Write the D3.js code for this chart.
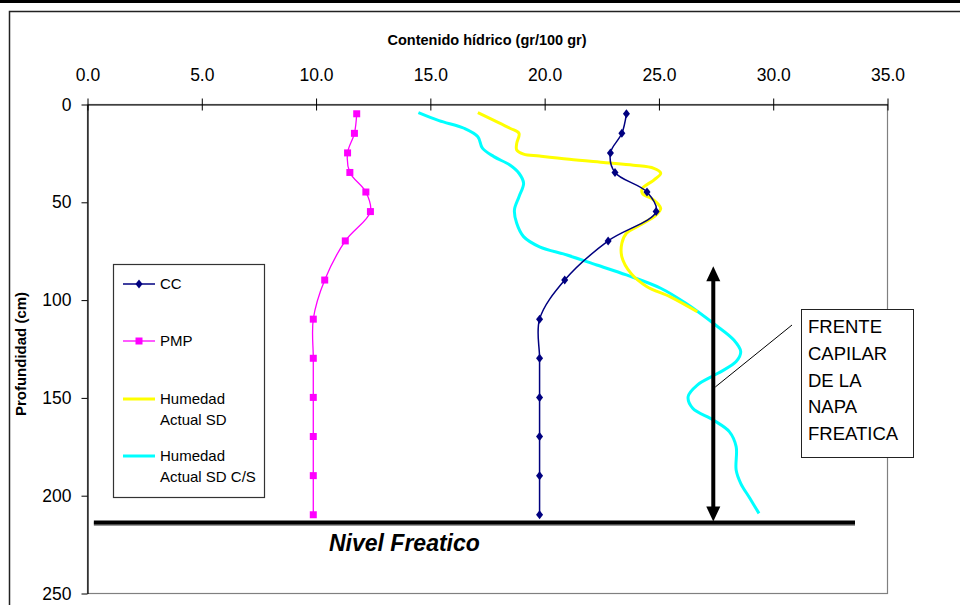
<!DOCTYPE html>
<html>
<head>
<meta charset="utf-8">
<script src="https://cdn.jsdelivr.net/npm/d3@7"></script>
<style>
  html, body { margin: 0; padding: 0; background: #fff; }
  svg { display: block; font-family: "Liberation Sans", Arial, sans-serif; }
</style>
</head>
<body>
<svg id="chart" width="960" height="605"></svg>
<script>
// Sampling depths (cm) for the laboratory constants
const depths = [5, 15, 25, 35, 45, 55, 70, 90, 110, 130, 150, 170, 190, 210];
// Capacidad de campo (gr/100 gr)
const ccValues = [23.6, 23.4, 22.9, 23.1, 24.5, 24.9, 22.8, 20.9, 19.8, 19.8, 19.8, 19.8, 19.8, 19.8];
// Punto de marchitez permanente (gr/100 gr)
const pmpValues = [11.8, 11.7, 11.4, 11.5, 12.2, 12.4, 11.3, 10.4, 9.9, 9.9, 9.9, 9.9, 9.9, 9.9];

// Humedad actual SD profile
const sdDepths = [4.4, 12.4, 15.0, 20.1, 23.5, 25.6, 26.6, 28.3, 30.0, 31.3, 32.9, 35.4, 38.9, 43.1, 45.7, 49.1, 53.3, 56.7, 61.9, 66.1, 71.2, 78.1, 86.6, 93.4, 98.5, 106.2];
const sdValues = [17.1, 18.5, 18.9, 18.8, 18.8, 19.1, 19.8, 21.1, 22.7, 23.9, 24.8, 25.1, 24.8, 24.3, 24.3, 24.8, 25.1, 24.9, 24.2, 23.6, 23.4, 23.4, 23.8, 24.5, 25.5, 26.7];

// Humedad actual SD C/S profile
const csDepths = [4.4, 8.5, 12.4, 16.7, 22.6, 26.9, 31.2, 35.4, 40.5, 47.4, 54.2, 61.0, 67.8, 73.0, 77.2, 82.3, 87.4, 94.2, 101.9, 113.0, 120.7, 126.6, 131.7, 137.7, 143.7, 149.6, 155.6, 161.6, 167.5, 175.2, 187.1, 193.9, 201.6, 209.3];
const csValues = [14.5, 15.4, 16.5, 17.1, 17.3, 17.8, 18.5, 18.9, 19.1, 18.9, 18.7, 18.8, 19.1, 19.8, 21.0, 22.3, 23.6, 25.1, 26.2, 27.5, 28.3, 28.6, 28.4, 27.6, 26.7, 26.3, 26.5, 27.4, 28.1, 28.4, 28.4, 28.6, 29.0, 29.4];

// Axis ticks
const xTicks = [0, 5, 10, 15, 20, 25, 30, 35];
const yTicks = [0, 50, 100, 150, 200, 250];

// Water table depth and capillary fringe extent (cm)
const nivelFreatico = 214;
const nivelExtent = [0.3, 33.6];
const frenteTop = 83;
const frenteX = 27.4;

const svg = d3.select("#chart");

// Page rule and chart frame
svg.append("rect").attr("x", 0).attr("y", 0).attr("width", 960).attr("height", 3).attr("fill", "#000");
svg.append("rect").attr("x", 9.5).attr("y", 11.5).attr("width", 1000).attr("height", 700)
  .attr("fill", "none").attr("stroke", "#222").attr("stroke-width", 1.5);

const plot = { left: 87, top: 104, right: 887, bottom: 593 };

const x = d3.scaleLinear().domain([0, 35]).range([plot.left, plot.right]);
const y = d3.scaleLinear().domain([0, 250]).range([plot.top, plot.bottom]);

// Plot area border
svg.append("rect")
  .attr("x", plot.left + 0.5).attr("y", plot.top + 0.5)
  .attr("width", plot.right - plot.left).attr("height", plot.bottom - plot.top)
  .attr("fill", "none").attr("stroke", "#808080").attr("stroke-width", 1.2);

// Top axis (contenido hídrico)
const xAxis = svg.append("g")
  .attr("transform", `translate(0.5,${plot.top + 0.5})`)
  .call(d3.axisTop(x).tickValues(xTicks).tickFormat(d3.format(".1f")).tickSize(6).tickPadding(18).tickSizeOuter(0));
xAxis.selectAll(".tick line").attr("y1", 6);
xAxis.select(".domain").attr("stroke", "#000").attr("stroke-width", 1.2);
xAxis.selectAll("text").attr("font-size", 17.5).attr("fill", "#000")
  .attr("font-family", "'Liberation Sans', Arial, sans-serif");

// Left axis (profundidad)
const yAxis = svg.append("g")
  .attr("transform", `translate(${plot.left + 0.5},0.5)`)
  .call(d3.axisLeft(y).tickValues(yTicks).tickFormat(d3.format("d")).tickSize(6).tickPadding(10).tickSizeOuter(0));
yAxis.select(".domain").attr("stroke", "#000").attr("stroke-width", 1.2);
yAxis.selectAll("text").attr("font-size", 17.5).attr("fill", "#000")
  .attr("font-family", "'Liberation Sans', Arial, sans-serif");

// Axis titles
svg.append("text")
  .attr("x", 487).attr("y", 45)
  .attr("text-anchor", "middle").attr("font-size", 14.5).attr("font-weight", "bold")
  .text("Contenido hídrico (gr/100 gr)");
svg.append("text")
  .attr("transform", "translate(26,354) rotate(-90)")
  .attr("text-anchor", "middle").attr("font-size", 15).attr("font-weight", "bold")
  .text("Profundidad (cm)");

// Smoothed profile lines
const profile = d3.line().curve(d3.curveCatmullRom.alpha(0.5))
  .x(d => x(d[0])).y(d => y(d[1]));

const sdData = sdValues.map((v, i) => [v, sdDepths[i]]);
const csData = csValues.map((v, i) => [v, csDepths[i]]);
const ccData = ccValues.map((v, i) => [v, depths[i]]);
const pmpData = pmpValues.map((v, i) => [v, depths[i]]);

svg.append("path").datum(csData).attr("d", profile)
  .attr("fill", "none").attr("stroke", "#00FFFF").attr("stroke-width", 3);
svg.append("path").datum(sdData).attr("d", profile)
  .attr("fill", "none").attr("stroke", "#FFFF00").attr("stroke-width", 3);
svg.append("path").datum(pmpData).attr("d", profile)
  .attr("fill", "none").attr("stroke", "#FF00FF").attr("stroke-width", 1.3);
svg.append("path").datum(ccData).attr("d", profile)
  .attr("fill", "none").attr("stroke", "#000080").attr("stroke-width", 1.5);

const diamond = "M0,-4.5L3.5,0L0,4.5L-3.5,0Z";
const square = "M-3.5,-3.5H3.5V3.5H-3.5Z";

svg.append("g").selectAll("path").data(pmpData).join("path")
  .attr("d", square).attr("fill", "#FF00FF")
  .attr("transform", d => `translate(${x(d[0])},${y(d[1])})`);
svg.append("g").selectAll("path").data(ccData).join("path")
  .attr("d", diamond).attr("fill", "#000080")
  .attr("transform", d => `translate(${x(d[0])},${y(d[1])})`);

// Water table
svg.append("line")
  .attr("x1", x(nivelExtent[0])).attr("x2", x(nivelExtent[1]))
  .attr("y1", y(nivelFreatico) + 1.5).attr("y2", y(nivelFreatico) + 1.5)
  .attr("stroke", "#999").attr("stroke-width", 4);
svg.append("line")
  .attr("x1", x(nivelExtent[0])).attr("x2", x(nivelExtent[1]))
  .attr("y1", y(nivelFreatico)).attr("y2", y(nivelFreatico))
  .attr("stroke", "#000").attr("stroke-width", 4);
svg.append("text")
  .attr("x", 329).attr("y", y(nivelFreatico) + 28)
  .attr("font-size", 23).attr("font-weight", "bold").attr("font-style", "italic")
  .text("Nivel Freatico");

// Capillary fringe double arrow
const ax = x(frenteX), aTop = y(frenteTop), aBot = y(nivelFreatico) - 1;
const head = 15, hw = 7;
svg.append("line").attr("x1", ax).attr("x2", ax).attr("y1", aTop + head - 2).attr("y2", aBot - head + 2)
  .attr("stroke", "#000").attr("stroke-width", 4);
svg.append("path").attr("fill", "#000")
  .attr("d", `M${ax},${aTop}L${ax + hw},${aTop + head}L${ax - hw},${aTop + head}Z`);
svg.append("path").attr("fill", "#000")
  .attr("d", `M${ax},${aBot}L${ax + hw},${aBot - head}L${ax - hw},${aBot - head}Z`);

// Callout
svg.append("line")
  .attr("x1", 792).attr("y1", 325).attr("x2", ax + 2).attr("y2", 387)
  .attr("stroke", "#000").attr("stroke-width", 1);
const box = svg.append("g").attr("transform", "translate(801,309)");
box.append("rect").attr("x", 0.5).attr("y", 0.5).attr("width", 112).attr("height", 148)
  .attr("fill", "#fff").attr("stroke", "#222").attr("stroke-width", 1);
["FRENTE", "CAPILAR", "DE LA", "NAPA", "FREATICA"].forEach((t, i) => {
  box.append("text").attr("x", 7).attr("y", 24 + i * 26.8)
    .attr("font-size", 18.5).attr("fill", "#000").text(t);
});

// Legend
const legend = svg.append("g").attr("transform", "translate(113,264)");
legend.append("rect").attr("x", 0.5).attr("y", 0.5).attr("width", 151).attr("height", 233)
  .attr("fill", "#fff").attr("stroke", "#333").attr("stroke-width", 1.2);
const legendItems = [
  { lines: ["CC"], color: "#000080", w: 1.5, mark: diamond, yy: 20 },
  { lines: ["PMP"], color: "#FF00FF", w: 1.3, mark: square, yy: 77 },
  { lines: ["Humedad", "Actual SD"], color: "#FFFF00", w: 3, mark: null, yy: 135 },
  { lines: ["Humedad", "Actual SD C/S"], color: "#00FFFF", w: 3, mark: null, yy: 192 }
];
legendItems.forEach(it => {
  legend.append("line").attr("x1", 10).attr("x2", 42).attr("y1", it.yy).attr("y2", it.yy)
    .attr("stroke", it.color).attr("stroke-width", it.w);
  if (it.mark) legend.append("path").attr("d", it.mark).attr("fill", it.color)
    .attr("transform", `translate(26,${it.yy})`);
  it.lines.forEach((t, j) => {
    legend.append("text").attr("x", 47).attr("y", it.yy + 5 + j * 21)
      .attr("font-size", 15).attr("fill", "#000").text(t);
  });
});
</script>
</body>
</html>
